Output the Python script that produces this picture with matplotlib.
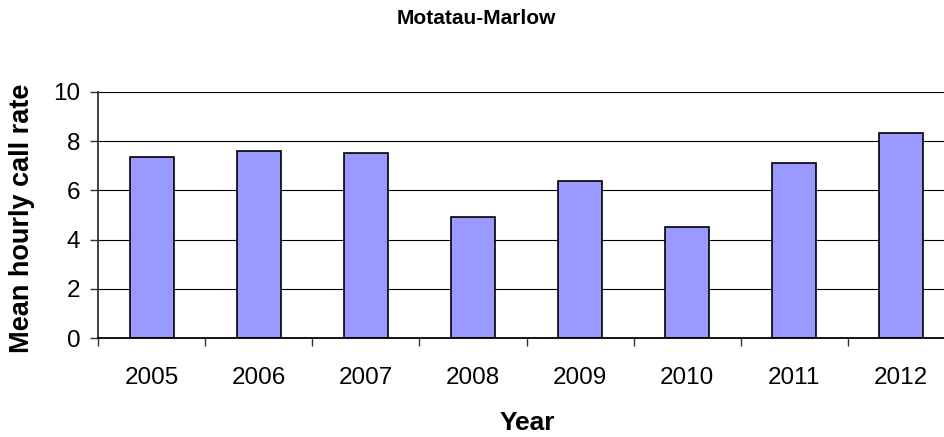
import matplotlib
matplotlib.use("Agg")
import matplotlib.pyplot as plt
import numpy as np

plt.rcParams['font.family'] = ['Liberation Sans', 'DejaVu Sans']

years = ["2005", "2006", "2007", "2008", "2009", "2010", "2011", "2012"]
call_rate = [7.35, 7.59, 7.51, 4.93, 6.38, 4.52, 7.11, 8.32]
yticks = [0, 2, 4, 6, 8, 10]

W, H = 944, 437
fig = plt.figure(figsize=(W / 100, H / 100), dpi=100)
ax = fig.add_axes([98.3 / W, 1 - 338.3 / H, (954.7 - 98.3) / W, (338.3 - 91.7) / H])

x = np.arange(len(years))
ax.bar(x, call_rate, width=0.41, color='#9999FF', edgecolor='black', linewidth=1.2, zorder=3)

ax.set_xlim(-0.5, len(years) - 0.5)
ax.set_ylim(0, 10)
ax.set_yticks(yticks)
ax.set_yticklabels([str(v) for v in yticks])
for v in yticks[1:]:
    ax.axhline(v, color='black', linewidth=0.8, zorder=1)

ax.set_xticks(x)
ax.set_xticklabels(years)
ax.set_xticks(np.arange(len(years) + 1) - 0.5, minor=True)
ax.tick_params(axis='x', which='major', length=0, pad=21, labelsize=17.5)
ax.tick_params(axis='x', which='minor', length=6, width=1.0, direction='out', color='#333333')
ax.tick_params(axis='y', length=6, width=1.0, direction='out', pad=7, labelsize=17.5, color='#333333')

for s in ['top', 'right']:
    ax.spines[s].set_visible(False)
ax.spines['left'].set_color('#333333')
ax.spines['left'].set_linewidth(1.3)
ax.spines['bottom'].set_color('black')
ax.spines['bottom'].set_linewidth(1.3)
ax.spines['bottom'].set_zorder(4)

fig.text(476 / W, 1 - 19 / H, "Motatau-Marlow", ha='center', va='center',
         fontsize=15, fontweight='bold')
fig.text(527 / W, 1 - 423 / H, "Year", ha='center', va='center',
         fontsize=19, fontweight='bold')
fig.text(21.7 / W, 1 - 218 / H, "Mean hourly call rate", ha='center', va='center',
         rotation=90, fontsize=19.5, fontweight='bold')

fig.savefig("out.png", dpi=100)
